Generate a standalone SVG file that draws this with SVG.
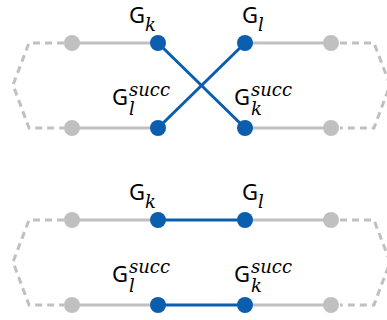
<svg xmlns="http://www.w3.org/2000/svg" width="387" height="320" viewBox="0 0 387 320">
  <style>
    .grey { stroke: #c0c0c0; stroke-width: 3; fill: none; }
    .dash { stroke: #c0c0c0; stroke-width: 3; fill: none; stroke-dasharray: 7 5; }
    .blue { stroke: #0b5ead; stroke-width: 3; fill: none; }
    .gnode { fill: #c0c0c0; }
    .bnode { fill: #0b5ead; }
    .lbl { font-family: "Noto Sans", "DejaVu Sans", sans-serif; font-size: 22px; fill: #000; }
    .mi { font-family: "DejaVu Serif", "Liberation Serif", serif; font-style: italic; font-size: 18px; fill: #000; }
  </style>

  <!-- Top: crossed edges -->
  <g id="edges-top">
    <path class="dash" d="M64,43 H29 L13,85 L29,128 H64"/>
    <path class="dash" d="M340,43 H374 L390,85 L374,128 H340"/>
    <line class="grey" x1="72" y1="43" x2="158" y2="43"/>
    <line class="grey" x1="72" y1="128" x2="158" y2="128"/>
    <line class="grey" x1="245" y1="43" x2="331" y2="43"/>
    <line class="grey" x1="245" y1="128" x2="331" y2="128"/>
    <line class="blue" x1="158" y1="43" x2="245" y2="128"/>
    <line class="blue" x1="158" y1="128" x2="245" y2="43"/>
  </g>
  <g id="t-left-top"><circle class="gnode" cx="72" cy="43" r="8"/></g>
  <g id="t-left-bottom"><circle class="gnode" cx="72" cy="128" r="8"/></g>
  <g id="t-right-top"><circle class="gnode" cx="331" cy="43" r="8"/></g>
  <g id="t-right-bottom"><circle class="gnode" cx="331" cy="128" r="8"/></g>
  <g id="t-Gk">
    <circle class="bnode" cx="158" cy="43" r="8"/>
    <text class="lbl" x="129" y="23">G</text>
    <text class="mi" x="145" y="31">k</text>
  </g>
  <g id="t-Gl">
    <circle class="bnode" cx="245" cy="43" r="8"/>
    <text class="lbl" x="242" y="23">G</text>
    <text class="mi" x="258" y="31">l</text>
  </g>
  <g id="t-Gl-succ">
    <circle class="bnode" cx="158" cy="128" r="8"/>
    <text class="lbl" x="112" y="105">G</text>
    <text class="mi" x="129" y="96">succ</text>
    <text class="mi" x="129" y="115">l</text>
  </g>
  <g id="t-Gk-succ">
    <circle class="bnode" cx="245" cy="128" r="8"/>
    <text class="lbl" x="234" y="105">G</text>
    <text class="mi" x="251" y="96">succ</text>
    <text class="mi" x="251" y="115">k</text>
  </g>

  <!-- Bottom: parallel edges -->
  <g id="edges-bottom">
    <path class="dash" d="M64,220 H29 L13,262 L29,305 H64"/>
    <path class="dash" d="M340,220 H374 L390,262 L374,305 H340"/>
    <line class="grey" x1="72" y1="220" x2="158" y2="220"/>
    <line class="grey" x1="72" y1="305" x2="158" y2="305"/>
    <line class="grey" x1="245" y1="220" x2="331" y2="220"/>
    <line class="grey" x1="245" y1="305" x2="331" y2="305"/>
    <line class="blue" x1="158" y1="220" x2="245" y2="220"/>
    <line class="blue" x1="158" y1="305" x2="245" y2="305"/>
  </g>
  <g id="b-left-top"><circle class="gnode" cx="72" cy="220" r="8"/></g>
  <g id="b-left-bottom"><circle class="gnode" cx="72" cy="305" r="8"/></g>
  <g id="b-right-top"><circle class="gnode" cx="331" cy="220" r="8"/></g>
  <g id="b-right-bottom"><circle class="gnode" cx="331" cy="305" r="8"/></g>
  <g id="b-Gk">
    <circle class="bnode" cx="158" cy="220" r="8"/>
    <text class="lbl" x="129" y="200">G</text>
    <text class="mi" x="145" y="208">k</text>
  </g>
  <g id="b-Gl">
    <circle class="bnode" cx="245" cy="220" r="8"/>
    <text class="lbl" x="242" y="200">G</text>
    <text class="mi" x="258" y="208">l</text>
  </g>
  <g id="b-Gl-succ">
    <circle class="bnode" cx="158" cy="305" r="8"/>
    <text class="lbl" x="112" y="282">G</text>
    <text class="mi" x="129" y="273">succ</text>
    <text class="mi" x="129" y="292">l</text>
  </g>
  <g id="b-Gk-succ">
    <circle class="bnode" cx="245" cy="305" r="8"/>
    <text class="lbl" x="234" y="282">G</text>
    <text class="mi" x="251" y="273">succ</text>
    <text class="mi" x="251" y="292">k</text>
  </g>
</svg>
